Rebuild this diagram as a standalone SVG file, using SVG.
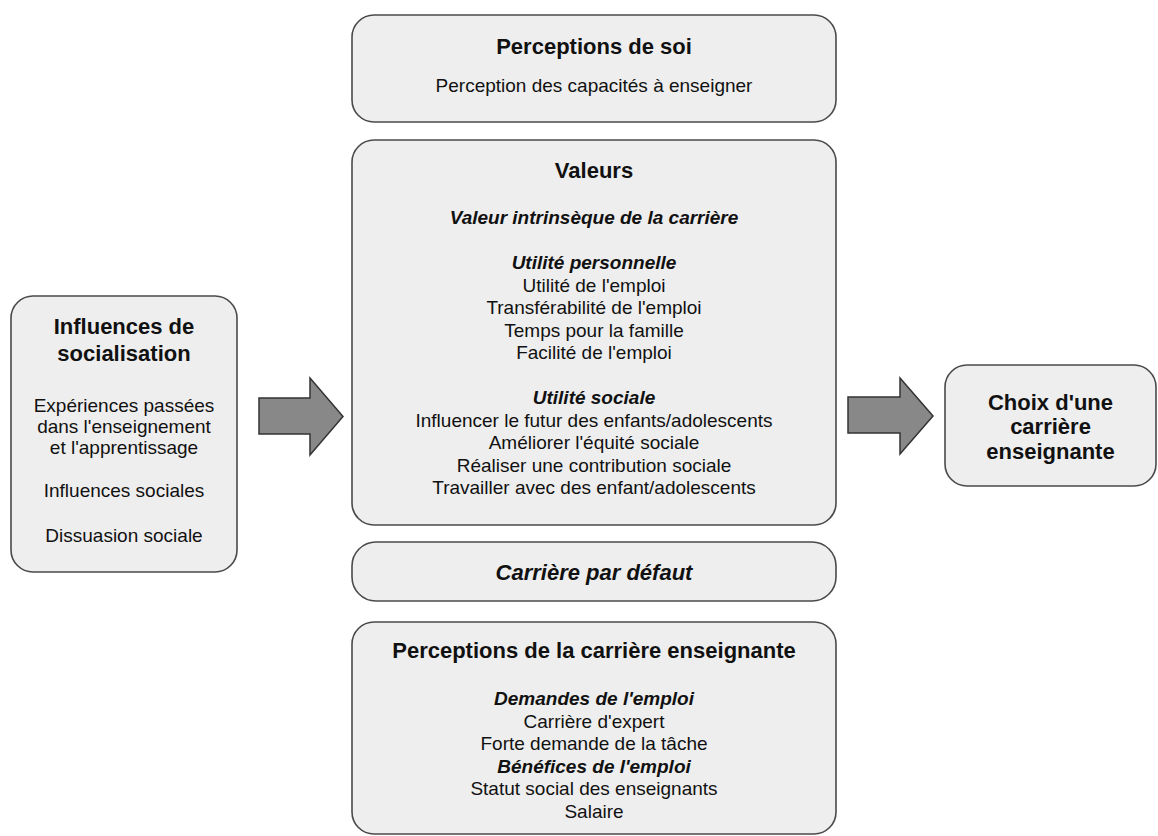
<svg xmlns="http://www.w3.org/2000/svg" width="1158" height="836" viewBox="0 0 1158 836">
<style>
.box{fill:#eeeeee;stroke:#4a4a4a;stroke-width:1.6}
.arrow{fill:#888888;stroke:#333333;stroke-width:1.5;stroke-linejoin:miter}
text{font-family:"Liberation Sans",Arial,sans-serif;fill:#111111;text-anchor:middle}
.t{font-size:22px;font-weight:bold}
.ti{font-size:22px;font-weight:bold;font-style:italic}
.s{font-size:19px;font-weight:bold;font-style:italic}
.r{font-size:19px}
</style>
<rect width="1158" height="836" fill="#ffffff"/>
<g id="influences">
<rect class="box" x="11" y="296" width="226" height="276" rx="22"/>
<text class="t" x="124" y="334">Influences de</text>
<text class="t" x="124" y="361">socialisation</text>
<text class="r" x="124" y="412">Expériences passées</text>
<text class="r" x="124" y="433">dans l'enseignement</text>
<text class="r" x="124" y="454">et l'apprentissage</text>
<text class="r" x="124" y="497">Influences sociales</text>
<text class="r" x="124" y="542">Dissuasion sociale</text>
</g>
<g id="perceptions-soi">
<rect class="box" x="352" y="15" width="484" height="107" rx="22"/>
<text class="t" x="594" y="54">Perceptions de soi</text>
<text class="r" x="594" y="92">Perception des capacités à enseigner</text>
</g>
<g id="valeurs">
<rect class="box" x="352" y="140" width="484" height="385" rx="22"/>
<text class="t" x="594" y="178">Valeurs</text>
<text class="s" x="594" y="224">Valeur intrinsèque de la carrière</text>
<text class="s" x="594" y="269">Utilité personnelle</text>
<text class="r" x="594" y="291.5">Utilité de l'emploi</text>
<text class="r" x="594" y="314">Transférabilité de l'emploi</text>
<text class="r" x="594" y="336.5">Temps pour la famille</text>
<text class="r" x="594" y="359">Facilité de l'emploi</text>
<text class="s" x="594" y="404">Utilité sociale</text>
<text class="r" x="594" y="426.5">Influencer le futur des enfants/adolescents</text>
<text class="r" x="594" y="449">Améliorer l'équité sociale</text>
<text class="r" x="594" y="471.5">Réaliser une contribution sociale</text>
<text class="r" x="594" y="494">Travailler avec des enfant/adolescents</text>
</g>
<g id="carriere-defaut">
<rect class="box" x="352" y="542" width="484" height="59" rx="24"/>
<text class="ti" x="594" y="580">Carrière par défaut</text>
</g>
<g id="perceptions-carriere">
<rect class="box" x="352" y="622" width="484" height="212" rx="22"/>
<text class="t" x="594" y="658">Perceptions de la carrière enseignante</text>
<text class="s" x="594" y="705">Demandes de l'emploi</text>
<text class="r" x="594" y="727.5">Carrière d'expert</text>
<text class="r" x="594" y="750">Forte demande de la tâche</text>
<text class="s" x="594" y="772.5">Bénéfices de l'emploi</text>
<text class="r" x="594" y="795">Statut social des enseignants</text>
<text class="r" x="594" y="817.5">Salaire</text>
</g>
<g id="choix">
<rect class="box" x="945" y="365" width="211" height="121" rx="22"/>
<text class="t" x="1050.5" y="409.5">Choix d'une</text>
<text class="t" x="1050.5" y="434">carrière</text>
<text class="t" x="1050.5" y="458.5">enseignante</text>
</g>
<g id="connectors">
<polygon class="arrow" points="259,398 310,398 310,378 343,416.5 310,455 310,434 259,434"/>
<polygon class="arrow" points="848,397 900,397 900,378 933,416 900,454 900,433 848,433"/>
</g>
</svg>
